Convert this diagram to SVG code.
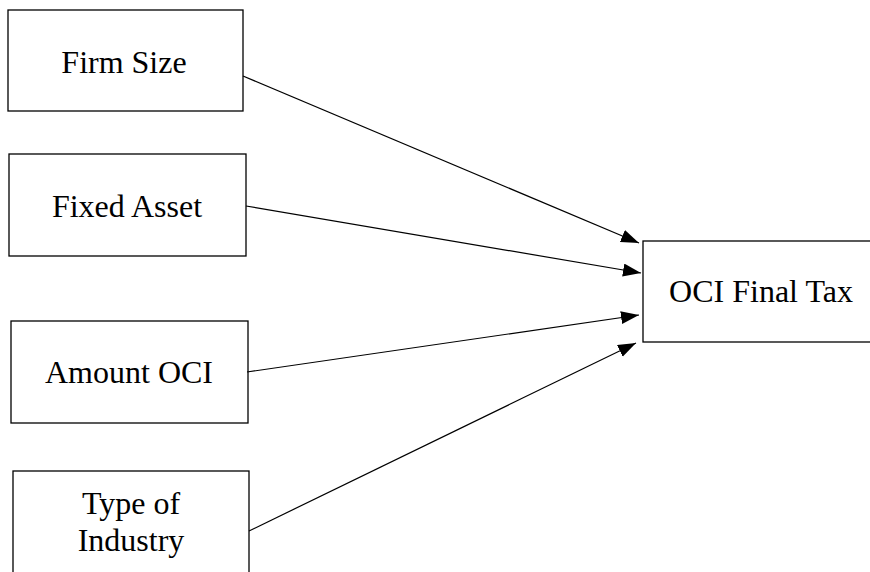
<svg xmlns="http://www.w3.org/2000/svg" width="870" height="572" viewBox="0 0 870 572">
<style>
.box{fill:#fff;stroke:#000;stroke-width:1.3}
.lbl{font-family:"Liberation Serif","Times New Roman",serif;font-size:32px;fill:#000;text-anchor:middle}
.edge{stroke:#000;stroke-width:1.2;fill:none;marker-end:url(#ah)}
</style>
<defs>
<marker id="ah" markerUnits="userSpaceOnUse" markerWidth="20" markerHeight="14" refX="18" refY="6.5" orient="auto">
<path d="M0,0 L18,6.5 L0,13 z" fill="#000"/>
</marker>
</defs>
<rect width="870" height="572" fill="#fff"/>
<g id="firm-size">
<rect class="box" x="8" y="10" width="235" height="101"/>
<text class="lbl" x="124" y="73">Firm Size</text>
</g>
<g id="fixed-asset">
<rect class="box" x="9" y="154" width="237" height="102"/>
<text class="lbl" x="127" y="217">Fixed Asset</text>
</g>
<g id="amount-oci">
<rect class="box" x="11" y="321" width="237" height="102"/>
<text class="lbl" x="129" y="383">Amount OCI</text>
</g>
<g id="type-of-industry">
<rect class="box" x="13" y="471" width="236" height="120"/>
<text class="lbl" x="131" y="514">Type of</text>
<text class="lbl" x="131" y="551">Industry</text>
</g>
<g id="oci-final-tax">
<rect class="box" x="643" y="241" width="240" height="101"/>
<text class="lbl" x="761" y="302">OCI Final Tax</text>
</g>
<g id="connectors">
<line class="edge" x1="243" y1="76" x2="639" y2="243"/>
<line class="edge" x1="246" y1="206" x2="641" y2="273"/>
<line class="edge" x1="247" y1="372" x2="639" y2="315"/>
<line class="edge" x1="249" y1="531" x2="636" y2="343"/>
</g>
</svg>
